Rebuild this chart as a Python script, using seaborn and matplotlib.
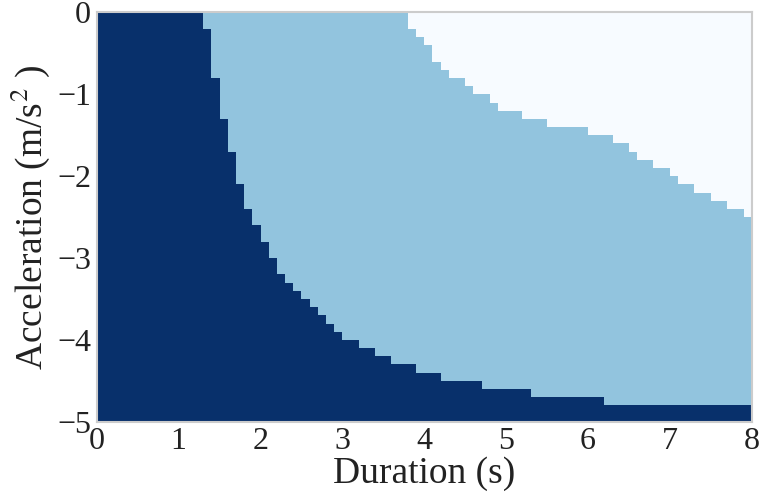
import numpy as np
import pandas as pd
import seaborn as sns
from matplotlib import pyplot as plt
from matplotlib.colors import ListedColormap

# duration axis: 0..8 s in 0.1 s cells, acceleration axis: 0..-5 m/s^2 in 0.1 cells
durations = np.round(np.arange(0, 8, 0.1), 1)
accelerations = np.round(np.arange(0, -5, -0.1), 1)

# right edge (s) of the dark region, one value per acceleration row (top to bottom)
dark_edge = [1.3, 1.3, 1.4, 1.4, 1.4, 1.4, 1.4, 1.4, 1.5, 1.5,
             1.5, 1.5, 1.5, 1.6, 1.6, 1.6, 1.6, 1.7, 1.7, 1.7,
             1.7, 1.8, 1.8, 1.8, 1.9, 1.9, 2.0, 2.0, 2.1, 2.1,
             2.2, 2.2, 2.3, 2.4, 2.5, 2.6, 2.7, 2.8, 2.9, 3.0,
             3.2, 3.4, 3.6, 3.9, 4.2, 4.7, 5.3, 6.2, 8.0, 8.0]

# right edge (s) of the light blue region
light_edge = [3.8, 3.8, 3.9, 4.0, 4.1, 4.1, 4.2, 4.3, 4.5, 4.6,
              4.8, 4.9, 5.2, 5.5, 6.0, 6.3, 6.5, 6.6, 6.8, 7.0,
              7.1, 7.3, 7.5, 7.7, 7.9, 8.0, 8.0, 8.0, 8.0, 8.0,
              8.0, 8.0, 8.0, 8.0, 8.0, 8.0, 8.0, 8.0, 8.0, 8.0,
              8.0, 8.0, 8.0, 8.0, 8.0, 8.0, 8.0, 8.0, 8.0, 8.0]

x_ticks = [0, 1, 2, 3, 4, 5, 6, 7, 8]
y_ticks = [0, -1, -2, -3, -4, -5]

# build the region grid: 2 = dark, 1 = mid, 0 = light
grid = np.zeros((len(accelerations), len(durations)))
for i in range(len(accelerations)):
    centers = durations + 0.05
    grid[i, centers < light_edge[i]] = 1
    grid[i, centers < dark_edge[i]] = 2
df = pd.DataFrame(grid, index=accelerations, columns=durations)

sns.set_style("white")
plt.rcParams['font.family'] = ['Liberation Serif', 'DejaVu Serif']
plt.rcParams['mathtext.fontset'] = 'stix'

fig = plt.figure(figsize=(7.62, 4.98), dpi=100)
ax = fig.add_axes([0.127, 0.153, 0.8595, 0.822])

cmap = ListedColormap(["#f7fbff", "#92c4de", "#08306b"])
sns.heatmap(df, cmap=cmap, vmin=0, vmax=2, cbar=False, ax=ax,
            xticklabels=False, yticklabels=False)

ax.set_xticks([t * 10 for t in x_ticks])
ax.set_xticklabels([str(t) for t in x_ticks], rotation=0)
ax.set_yticks([-t * 10 for t in y_ticks])
ax.set_yticklabels([str(t).replace('-', '\u2212') for t in y_ticks], rotation=0)
ax.tick_params(length=0, labelsize=23, colors='#222222', pad=4)

for s in ax.spines.values():
    s.set_visible(True)
    s.set_color('#cccccc')
    s.set_linewidth(1.5)

ax.set_xlabel("Duration (s)", fontsize=27, color='#222222', labelpad=0)
ax.set_ylabel("Acceleration (m/s$^{2}$ )", fontsize=27, color='#222222', labelpad=4)

fig.savefig("out.png", dpi=100)
